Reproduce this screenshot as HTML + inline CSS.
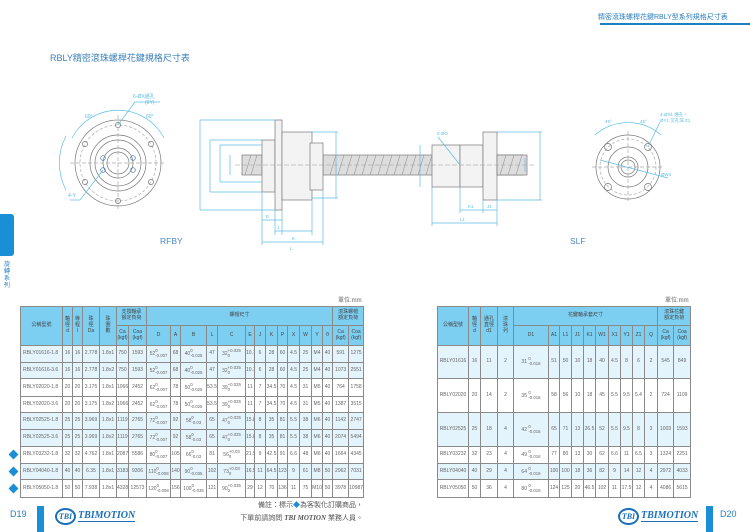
<!DOCTYPE html>
<html><head><meta charset="utf-8">
<style>
*{margin:0;padding:0;box-sizing:border-box}
body{width:750px;height:532px;background:#fff;position:relative;overflow:hidden;font-family:"Liberation Sans","Noto Sans CJK TC",sans-serif;color:#555}
.abs{position:absolute}
table{position:absolute;border-collapse:collapse;table-layout:fixed;font-size:5px;color:#666}
td{border:0.8px solid #8a8a8a;text-align:center;vertical-align:middle;padding:0;line-height:1.15;overflow:hidden;white-space:nowrap}
.h td{background:#7dcff2;color:#444}
.b{background:#e4f4fc}
.t{display:inline-block;vertical-align:middle;font-size:4.3px;line-height:1.1;text-align:left}
.l{text-align:left;padding-left:2px}
</style></head><body>

<div class="abs" style="left:598px;top:12px;font-size:7px;color:#2a7fbf;">精密滾珠螺桿花鍵RBLY型系列規格尺寸表</div>
<div class="abs" style="left:600px;top:23px;width:150px;height:2px;background:#1a7fc4"></div>
<div class="abs" style="left:50px;top:51px;font-size:9px;color:#3a7fb8;">RBLY精密滾珠螺桿花鍵規格尺寸表</div>

<div class="abs" style="left:0;top:214px;width:14px;height:42px;background:#1a8fd6;border-radius:0 3px 3px 0"></div>
<div class="abs" style="left:4px;top:262px;width:8px;font-size:6px;line-height:7px;color:#2a7fbf">旋轉系列</div>

<svg class="abs" style="left:0;top:0" width="750" height="260" viewBox="0 0 750 260" fill="none" stroke-width="0.7">
 <g stroke="#777">
  <circle cx="118" cy="163" r="43"/>
  <circle cx="118" cy="163" r="38" stroke-dasharray="3 2" stroke="#aaa"/>
  <circle cx="118" cy="163" r="28"/>
  <circle cx="118" cy="163" r="23"/>
  <circle cx="118" cy="163" r="15"/>
  <circle cx="118" cy="163" r="11"/>
  <circle cx="118" cy="125" r="2.6"/><circle cx="118" cy="201" r="2.6"/>
  <circle cx="85" cy="144" r="2.6"/><circle cx="151" cy="144" r="2.6"/>
  <circle cx="85" cy="182" r="2.6"/><circle cx="151" cy="182" r="2.6"/>
  <circle cx="103" cy="158" r="2.3" stroke="#3a6fa8"/><circle cx="133" cy="158" r="2.3" stroke="#3a6fa8"/>
  <circle cx="103" cy="170" r="2.3" stroke="#3a6fa8"/><circle cx="133" cy="170" r="2.3" stroke="#3a6fa8"/>
  <line x1="70" y1="163" x2="166" y2="163" stroke-dasharray="4 2" stroke="#aaa"/>
  <line x1="118" y1="115" x2="118" y2="211" stroke-dasharray="4 2" stroke="#aaa"/>
 </g>
 <g stroke="#5bbde6">
  <path d="M72 138 A52 52 0 0 1 164 138"/>
  <path d="M66 190 A58 58 0 0 1 66 136"/>
  <line x1="118" y1="125" x2="135" y2="102"/><line x1="135" y1="102" x2="160" y2="102"/>
  <line x1="103" y1="170" x2="80" y2="200"/><line x1="70" y1="200" x2="80" y2="200"/>
 </g>
 <g font-size="5" fill="#5bbde6" stroke="none">
  <text x="133" y="98">6-ØX通孔</text><text x="145" y="104">(θY)</text>
  <text x="85" y="118">60°</text><text x="146" y="118">60°</text>
  <text x="68" y="197">4-Y</text>
 </g>
 <!-- RFBY -->
 <g stroke="#777" fill="#f3f3f3">
  <rect x="242" y="155" width="20" height="20" fill="#ddd"/>
  <rect x="323" y="155" width="200" height="20" fill="#ddd"/>
  <rect x="262" y="140" width="13" height="52"/>
  <rect x="275" y="120" width="7" height="90"/>
  <rect x="282" y="132" width="30" height="68"/>
  <rect x="310" y="143" width="13" height="47"/>
  <rect x="432" y="145" width="28" height="42"/>
  <rect x="460" y="145" width="23" height="42"/>
  <rect x="483" y="132" width="14" height="68"/>
  <rect x="497" y="155" width="30" height="20" fill="#ddd"/>
 </g>
 <g stroke="#999" stroke-width="0.6">
  <path d="M245 175 l6 -20 M251 175 l6 -20 M330 175 l6 -20 M338 175 l6 -20 M346 175 l6 -20 M354 175 l6 -20 M362 175 l6 -20 M370 175 l6 -20 M378 175 l6 -20 M386 175 l6 -20 M394 175 l6 -20 M402 175 l6 -20 M410 175 l6 -20 M418 175 l6 -20 M426 175 l6 -20 M500 175 l6 -20 M508 175 l6 -20 M516 175 l6 -20"/>
  <line x1="235" y1="165" x2="535" y2="165" stroke-dasharray="5 2"/>
 </g>
 <g stroke="#5bbde6">
  <line x1="200" y1="120" x2="200" y2="210"/><line x1="200" y1="120" x2="275" y2="120"/><line x1="200" y1="210" x2="275" y2="210"/>
  <line x1="210" y1="140" x2="210" y2="192"/><line x1="210" y1="140" x2="262" y2="140"/><line x1="210" y1="192" x2="262" y2="192"/>
  <line x1="220" y1="145" x2="220" y2="182"/><line x1="220" y1="145" x2="262" y2="145"/><line x1="220" y1="182" x2="262" y2="182"/>
  <line x1="230" y1="155" x2="230" y2="175"/>
  <line x1="336" y1="132" x2="336" y2="198"/><line x1="312" y1="132" x2="338" y2="132"/><line x1="312" y1="198" x2="338" y2="198"/>
  <line x1="262" y1="192" x2="262" y2="245"/><line x1="275" y1="210" x2="275" y2="235"/><line x1="282" y1="210" x2="282" y2="235"/><line x1="323" y1="190" x2="323" y2="245"/><line x1="312" y1="200" x2="312" y2="235"/>
  <line x1="262" y1="220" x2="282" y2="220"/><line x1="275" y1="231" x2="312" y2="231"/><line x1="262" y1="242" x2="323" y2="242"/>
  <line x1="420" y1="145" x2="420" y2="187"/><line x1="540" y1="132" x2="540" y2="200"/><line x1="497" y1="132" x2="542" y2="132"/><line x1="497" y1="200" x2="542" y2="200"/>
  <line x1="525" y1="158" x2="525" y2="172"/>
  <line x1="460" y1="187" x2="460" y2="213"/><line x1="483" y1="200" x2="483" y2="213"/><line x1="497" y1="200" x2="497" y2="226"/><line x1="432" y1="187" x2="432" y2="226"/>
  <line x1="460" y1="210" x2="497" y2="210"/><line x1="432" y1="223" x2="497" y2="223"/>
  <line x1="438" y1="137" x2="460" y2="165"/>
 </g>
 <g font-size="4.5" fill="#5bbde6" stroke="none">
  <text x="437" y="135">2-ØO</text><text x="468" y="208">K1</text><text x="487" y="208">J1</text><text x="460" y="221">L1</text>
  <text x="266" y="218">E</text><text x="277" y="229">J</text><text x="292" y="240">K</text><text x="290" y="250">L</text>
 </g>
 <text x="160" y="244" font-size="8.5" fill="#4a88c0" stroke="none">RFBY</text>
 <text x="570" y="244" font-size="8.5" fill="#4a88c0" stroke="none">SLF</text>
 <!-- SLF circle -->
 <g stroke="#777">
  <circle cx="628" cy="167" r="32"/>
  <circle cx="628" cy="167" r="28" stroke-dasharray="3 2" stroke="#aaa"/>
  <circle cx="628" cy="167" r="20"/>
  <circle cx="628" cy="167" r="10"/><circle cx="628" cy="167" r="7"/>
  <circle cx="608" cy="147" r="3.5"/><circle cx="648" cy="147" r="3.5"/><circle cx="608" cy="187" r="3.5"/><circle cx="648" cy="187" r="3.5"/>
  <line x1="592" y1="167" x2="664" y2="167" stroke-dasharray="4 2" stroke="#aaa"/>
  <line x1="628" y1="131" x2="628" y2="203" stroke-dasharray="4 2" stroke="#aaa"/>
 </g>
 <g stroke="#5bbde6"><path d="M595 135 A50 50 0 0 1 661 135"/><line x1="648" y1="147" x2="660" y2="122"/><line x1="600" y1="160" x2="668" y2="178"/></g>
 <g font-size="4.5" fill="#5bbde6" stroke="none"><text x="605" y="123">45°</text><text x="640" y="123">45°</text><text x="660" y="116">4-ØX1 通孔，</text><text x="660" y="122">ØY1 沉孔深 Z1</text><text x="661" y="176">ØW1</text></g>
</svg>

<div class="abs" style="left:338px;top:295px;font-size:6px;color:#666">單位:mm</div>
<div class="abs" style="left:665px;top:295px;font-size:6px;color:#666">單位:mm</div>

<table style="left:20px;top:306px;width:343px">
<colgroup><col style="width:42px"><col style="width:10px"><col style="width:10px"><col style="width:17px"><col style="width:17px"><col style="width:12px"><col style="width:18px"><col style="width:24px"><col style="width:10px"><col style="width:26px"><col style="width:11px"><col style="width:28px"><col style="width:9px"><col style="width:11px"><col style="width:12px"><col style="width:10px"><col style="width:12px"><col style="width:12px"><col style="width:11px"><col style="width:10px"><col style="width:16px"><col style="width:15px"></colgroup>
<tr class="h" style="height:19px"><td rowspan="2">公稱型號</td><td rowspan="2">軸<br>徑<br>d</td><td rowspan="2">導<br>程<br>l</td><td rowspan="2">珠<br>徑<br>Da</td><td rowspan="2">珠<br>圈<br>數</td><td colspan="2">支撐軸承<br>額定負荷</td><td colspan="13">螺帽尺寸</td><td colspan="2">滾珠螺帽<br>額定負荷</td></tr>
<tr class="h" style="height:20px"><td>Ca<br>(kgf)</td><td>Coa<br>(kgf)</td><td>D</td><td>A</td><td>B</td><td>L</td><td>C</td><td>E</td><td>J</td><td>K</td><td>P</td><td>X</td><td>W</td><td>Y</td><td>θ</td><td>Ca<br>(kgf)</td><td>Coa<br>(kgf)</td></tr>
<tr class="b" style="height:17px"><td class="l">RBLY01616-1.8</td><td>16</td><td>16</td><td>2.778</td><td>1.8x1</td><td>750</td><td>1593</td><td>52<span class="t">0<br>-0.007</span></td><td>68</td><td>40<span class="t">0<br>-0.025</span></td><td>47</td><td>32<span class="t">+0.025<br>0</span></td><td>10.1</td><td>6</td><td>28</td><td>60</td><td>4.5</td><td>25</td><td>M4</td><td>40</td><td>591</td><td>1275</td></tr>
<tr class="b" style="height:16px"><td class="l">RBLY01616-3.6</td><td>16</td><td>16</td><td>2.778</td><td>1.8x2</td><td>750</td><td>1593</td><td>52<span class="t">0<br>-0.007</span></td><td>68</td><td>40<span class="t">0<br>-0.025</span></td><td>47</td><td>32<span class="t">+0.025<br>0</span></td><td>10.1</td><td>6</td><td>28</td><td>60</td><td>4.5</td><td>25</td><td>M4</td><td>40</td><td>1073</td><td>2551</td></tr>
<tr style="height:18px"><td class="l">RBLY02020-1.8</td><td>20</td><td>20</td><td>3.175</td><td>1.8x1</td><td>1066</td><td>2452</td><td>62<span class="t">0<br>-0.007</span></td><td>78</td><td>50<span class="t">0<br>-0.025</span></td><td>53.5</td><td>39<span class="t">+0.025<br>0</span></td><td>11</td><td>7</td><td>34.5</td><td>70</td><td>4.5</td><td>31</td><td>M5</td><td>40</td><td>764</td><td>1758</td></tr>
<tr style="height:16px"><td class="l">RBLY02020-3.6</td><td>20</td><td>20</td><td>3.175</td><td>1.8x2</td><td>1066</td><td>2452</td><td>62<span class="t">0<br>-0.007</span></td><td>78</td><td>50<span class="t">0<br>-0.025</span></td><td>53.5</td><td>39<span class="t">+0.025<br>0</span></td><td>11</td><td>7</td><td>34.5</td><td>70</td><td>4.5</td><td>31</td><td>M5</td><td>40</td><td>1387</td><td>3515</td></tr>
<tr class="b" style="height:17px"><td class="l">RBLY02525-1.8</td><td>25</td><td>25</td><td>3.969</td><td>1.8x1</td><td>1119</td><td>2765</td><td>72<span class="t">0<br>-0.007</span></td><td>92</td><td>58<span class="t">0<br>-0.03</span></td><td>65</td><td>47<span class="t">+0.025<br>0</span></td><td>15.8</td><td>8</td><td>35</td><td>81</td><td>5.5</td><td>38</td><td>M6</td><td>40</td><td>1142</td><td>2747</td></tr>
<tr class="b" style="height:17px"><td class="l">RBLY02525-3.6</td><td>25</td><td>25</td><td>3.969</td><td>1.8x2</td><td>1119</td><td>2765</td><td>72<span class="t">0<br>-0.007</span></td><td>92</td><td>58<span class="t">0<br>-0.03</span></td><td>65</td><td>47<span class="t">+0.025<br>0</span></td><td>15.8</td><td>8</td><td>35</td><td>81</td><td>5.5</td><td>38</td><td>M6</td><td>40</td><td>2074</td><td>5494</td></tr>
<tr style="height:17px"><td class="l">RBLY03232-1.8</td><td>32</td><td>32</td><td>4.762</td><td>1.8x1</td><td>2087</td><td>5586</td><td>80<span class="t">0<br>-0.007</span></td><td>105</td><td>66<span class="t">0<br>-0.03</span></td><td>81</td><td>56<span class="t">+0.03<br>0</span></td><td>21.5</td><td>9</td><td>42.5</td><td>91</td><td>6.6</td><td>48</td><td>M6</td><td>40</td><td>1664</td><td>4345</td></tr>
<tr class="b" style="height:16px"><td class="l">RBLY04040-1.8</td><td>40</td><td>40</td><td>6.35</td><td>1.8x1</td><td>3183</td><td>9306</td><td>110<span class="t">0<br>-0.008</span></td><td>140</td><td>90<span class="t">0<br>-0.035</span></td><td>102</td><td>73<span class="t">+0.03<br>0</span></td><td>16.5</td><td>11</td><td>64.5</td><td>123</td><td>9</td><td>61</td><td>M8</td><td>50</td><td>2962</td><td>7031</td></tr>
<tr style="height:18px"><td class="l">RBLY05050-1.8</td><td>50</td><td>50</td><td>7.938</td><td>1.8x1</td><td>4328</td><td>12573</td><td>120<span class="t">0<br>-0.008</span></td><td>156</td><td>100<span class="t">0<br>-0.035</span></td><td>121</td><td>90<span class="t">+0.035<br>0</span></td><td>29</td><td>12</td><td>70</td><td>136</td><td>11</td><td>75</td><td>M10</td><td>50</td><td>3978</td><td>10987</td></tr>
</table>

<div class="abs" style="left:10px;top:451px;width:7px;height:7px;background:#1a8fd6;transform:rotate(45deg)"></div>
<div class="abs" style="left:10px;top:468px;width:7px;height:7px;background:#1a8fd6;transform:rotate(45deg)"></div>
<div class="abs" style="left:10px;top:485px;width:7px;height:7px;background:#1a8fd6;transform:rotate(45deg)"></div>

<table style="left:437px;top:306px;width:253px">
<colgroup><col style="width:31px"><col style="width:12px"><col style="width:17px"><col style="width:16px"><col style="width:35px"><col style="width:11px"><col style="width:12px"><col style="width:12px"><col style="width:12px"><col style="width:13px"><col style="width:12px"><col style="width:12px"><col style="width:12px"><col style="width:13px"><col style="width:16px"><col style="width:17px"></colgroup>
<tr class="h" style="height:19px"><td rowspan="2">公稱型號</td><td rowspan="2">軸<br>徑<br>d</td><td rowspan="2">通孔<br>直徑<br>d1</td><td rowspan="2">滾<br>珠<br>列</td><td colspan="10">花鍵軸承套尺寸</td><td colspan="2">滾珠花鍵<br>額定負荷</td></tr>
<tr class="h" style="height:20px"><td>D1</td><td>A1</td><td>L1</td><td>J1</td><td>K1</td><td>W1</td><td>X1</td><td>Y1</td><td>Z1</td><td>Q</td><td>Ca<br>(kgf)</td><td>Coa<br>(kgf)</td></tr>
<tr class="b" style="height:33px"><td>RBLY01616</td><td>16</td><td>11</td><td>2</td><td>31 <span class="t">0<br>-0.016</span></td><td>51</td><td>50</td><td>10</td><td>18</td><td>40</td><td>4.5</td><td>8</td><td>6</td><td>2</td><td>545</td><td>849</td></tr>
<tr style="height:34px"><td>RBLY02020</td><td>20</td><td>14</td><td>2</td><td>35 <span class="t">0<br>-0.016</span></td><td>58</td><td>56</td><td>10</td><td>18</td><td>45</td><td>5.5</td><td>9.5</td><td>5.4</td><td>2</td><td>724</td><td>1109</td></tr>
<tr class="b" style="height:34px"><td>RBLY02525</td><td>25</td><td>18</td><td>4</td><td>42 <span class="t">0<br>-0.016</span></td><td>65</td><td>71</td><td>13</td><td>26.5</td><td>52</td><td>5.5</td><td>9.5</td><td>8</td><td>3</td><td>1003</td><td>1593</td></tr>
<tr style="height:17px"><td>RBLY03232</td><td>32</td><td>23</td><td>4</td><td>49 <span class="t">0<br>-0.016</span></td><td>77</td><td>80</td><td>13</td><td>30</td><td>62</td><td>6.6</td><td>11</td><td>6.5</td><td>3</td><td>1324</td><td>2251</td></tr>
<tr class="b" style="height:16px"><td>RBLY04040</td><td>40</td><td>29</td><td>4</td><td>64 <span class="t">0<br>-0.019</span></td><td>100</td><td>100</td><td>18</td><td>36</td><td>82</td><td>9</td><td>14</td><td>12</td><td>4</td><td>2972</td><td>4033</td></tr>
<tr style="height:18px"><td>RBLY05050</td><td>50</td><td>36</td><td>4</td><td>80 <span class="t">0<br>-0.019</span></td><td>124</td><td>125</td><td>20</td><td>46.5</td><td>102</td><td>11</td><td>17.5</td><td>12</td><td>4</td><td>4086</td><td>5615</td></tr>
</table>

<div class="abs" style="left:248px;top:500px;width:115px;text-align:right;font-size:7px;color:#555">備註：標示<span style="color:#1a8fd6">◆</span>為客製化訂購商品，</div>
<div class="abs" style="left:200px;top:513px;width:163px;text-align:right;font-size:7px;color:#555">下單前請詢問 <b><i style="font-family:'Liberation Serif',serif">TBI MOTION</i></b> 業務人員。</div>

<div class="abs" style="left:10px;top:509px;font-size:9px;color:#2a7fbf">D19</div>
<div class="abs" style="left:37px;top:506px;width:7px;height:26px;background:#1a8fd6"></div>
<div class="abs" style="left:55px;top:508px;width:21px;height:17px;border:2px solid #1a6fb8;border-radius:50%;font:bold italic 8px 'Liberation Serif',serif;color:#1a6fb8;text-align:center;line-height:13px">TBI</div>
<div class="abs" style="left:78px;top:510px;font:bold italic 10px 'Liberation Serif',serif;color:#1a6fb8;border-bottom:1px solid #1a6fb8">TBIMOTION</div>

<div class="abs" style="left:618px;top:508px;width:21px;height:17px;border:2px solid #1a6fb8;border-radius:50%;font:bold italic 8px 'Liberation Serif',serif;color:#1a6fb8;text-align:center;line-height:13px">TBI</div>
<div class="abs" style="left:641px;top:510px;font:bold italic 10px 'Liberation Serif',serif;color:#1a6fb8;border-bottom:1px solid #1a6fb8">TBIMOTION</div>
<div class="abs" style="left:706px;top:506px;width:7px;height:26px;background:#1a8fd6"></div>
<div class="abs" style="left:720px;top:509px;font-size:9px;color:#2a7fbf">D20</div>
</body></html>
